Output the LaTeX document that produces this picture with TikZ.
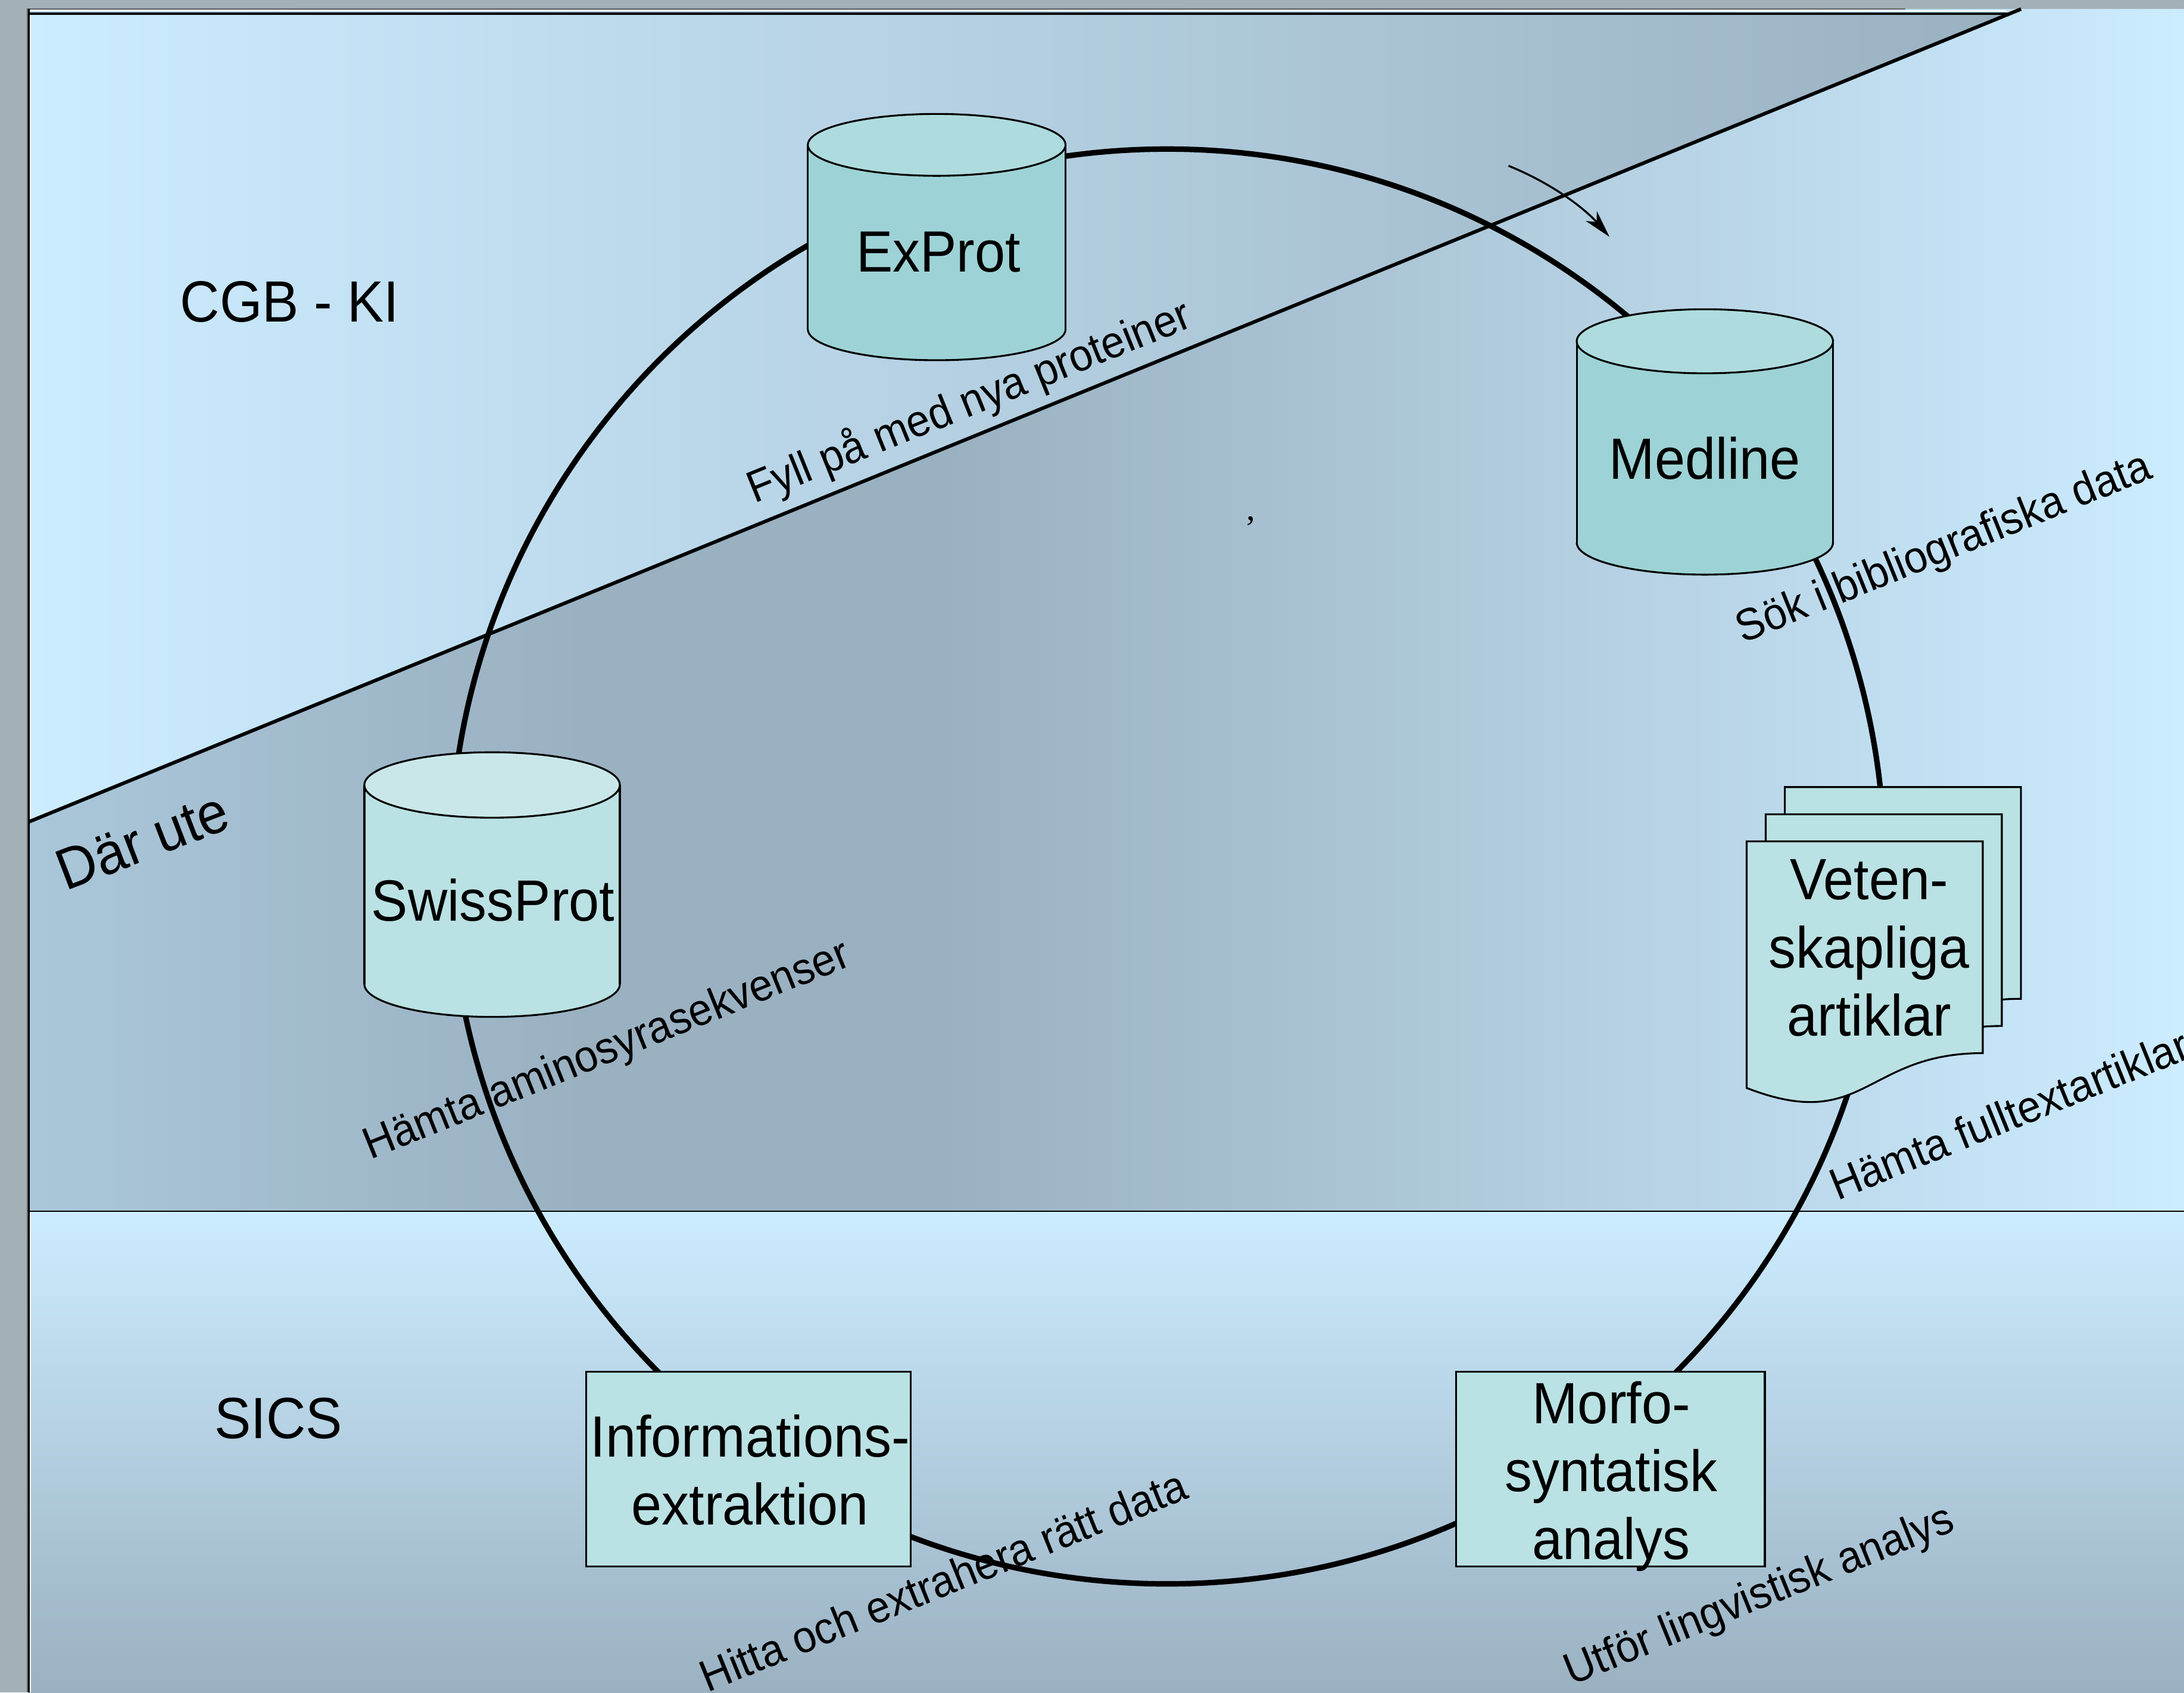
\documentclass[tikz,border=0pt]{standalone}
\usepackage{fontspec}
\setmainfont{Liberation Sans}[FakeStretch=0.94]
\newfontfamily\commafont{Liberation Serif}
\usetikzlibrary{arrows.meta}
\definecolor{outergray}{HTML}{A3B0B5}
\definecolor{lightblue}{HTML}{CCECFF}
\definecolor{darkblue}{HTML}{9AB1C1}
\definecolor{leftmid}{HTML}{AAC7DA}
\definecolor{cylA}{HTML}{9DD3D6}
\definecolor{cylAtop}{HTML}{AEDCDE}
\definecolor{cylB}{HTML}{BAE1E3}
\definecolor{cylBtop}{HTML}{C9E7E9}
\definecolor{boxfill}{HTML}{BAE1E3}
\tikzset{
  shapeline/.style={draw=black, line width=0.95pt},
  maintext/.style={font=\fontsize{29.7}{34.7}\selectfont, inner sep=0pt, align=center},
  lbltext/.style={font=\fontsize{22.8}{25}\selectfont, inner sep=0pt, rotate=22},
  ringline/.style={line width=2.8pt},
  boxnode/.style={shapeline, fill=boxfill, rectangle, inner sep=0pt},
}
% cylinder: left, right, top centre y, bottom centre y, y radius, body colour, top colour
\newcommand\dbcyl[7]{%
  \pgfmathsetmacro\cylcx{(#1+#2)/2}%
  \pgfmathsetmacro\cylrx{(#2-#1)/2}%
  \fill[#6] (#1,#3) rectangle (#2,#4);
  \fill[#6] (\cylcx,#4) ellipse[x radius=\cylrx, y radius=#5];
  \begin{scope}
    \clip ({#1-5},#4) rectangle ({#2+5},{#4+#5+5});
    \draw[shapeline] (\cylcx,#4) ellipse[x radius=\cylrx, y radius=#5];
  \end{scope}
  \draw[shapeline] (#1,#3) -- (#1,#4) (#2,#3) -- (#2,#4);
  \filldraw[shapeline, fill=#7] (\cylcx,#3) ellipse[x radius=\cylrx, y radius=#5];
}
\begin{document}
\begin{tikzpicture}[x=0.025cm, y=-0.025cm]
\useasboundingbox (0,0) rectangle (1568,1215);
\fill[outergray] (0,0) rectangle (1568,1215);

% "Där ute" background band
\shade[left color=leftmid, right color=darkblue] (20.4,6.5) rectangle (420,869.5);
\fill[darkblue] (419.5,6.5) rectangle (680.5,869.5);
\shade[left color=darkblue, right color=lightblue] (680,6.5) rectangle (1568,869.5);

% CGB - KI triangle
\shade[left color=lightblue, right color=darkblue] (21,10) -- (1442,10) -- (21,590) -- cycle;

% SICS band
\shade[top color=lightblue, bottom color=darkblue] (20.4,869.5) rectangle (1568,1215);

% frame lines
\draw[white, line width=0.6pt] (20.4,7.9) -- (1440,7.9);
\draw[black!60, line width=0.5pt] (19.6,1215) -- (19.6,6.3) -- (1368,6.3);
\draw[black, line width=0.9pt] (20.6,6.5) -- (20.6,1215);
\draw[white, line width=0.7pt] (21.8,10) -- (21.8,588);
\draw[white, line width=0.7pt] (21.8,870.5) -- (21.8,1215);
\draw[black, line width=1.2pt] (20.6,10) -- (1442,10);
\draw[black, line width=0.8pt] (20.6,869.5) -- (1568,869.5);
\coordinate (diagA) at (20.6,590);
\coordinate (diagB) at (1451,6.5);
\draw[black, line width=1.8pt] (diagA) -- (diagB);

% the ring
\coordinate (ringc) at (838,622);
\draw[ringline] (ringc) circle[radius=515];

% small curved arrow
\coordinate (arrS) at (1083,119);
\coordinate (arrE) at (1155.5,170);
\draw[line width=1pt, -{Stealth[length=14pt, width=7.5pt, inset=4pt]}]
  (arrS) .. controls (1115,132) and (1138,150) .. (arrE);

% cylinders
\dbcyl{580}{765}{104}{236.4}{22.2}{cylA}{cylAtop}
\dbcyl{1132}{1316}{245}{389.5}{23}{cylA}{cylAtop}
\dbcyl{261.6}{445}{563.5}{706.5}{23.5}{cylB}{cylBtop}

% document stack
\foreach \ox/\oy in {1281.4/565, 1267.7/584.5, 1254/604} {
  \filldraw[shapeline, fill=boxfill] (\ox,\oy) -- ({\ox+169.5},\oy) -- ({\ox+169.5},{\oy+152})
    .. controls ({\ox+84.75},{\oy+152}) and ({\ox+84.75},{\oy+209.9}) .. (\ox,{\oy+177}) -- cycle;
}

% boxes
\node[boxnode, minimum width=5.83cm, minimum height=3.4975cm] (infobox) at (537.3,1054.5) {};
\node[boxnode, minimum width=5.535cm, minimum height=3.5cm] (morfobox) at (1156.3,1054.6) {};

% node texts
\node[maintext] (exprot) at (673.7,181) {ExProt};
\node[maintext] (medline) at (1224,329) {Medline};
\node[maintext] (swissprot) at (354,646) {SwissProt};
\node[maintext] (veten) at (1342,680.5) {Veten-\\skapliga\\artiklar};
\node[maintext] (infotext) at (538.5,1055.2) {Informations-\\extraktion};
\node[maintext] (morfotext) at (1156.8,1059.7) {Morfo-\\syntatisk\\analys};

% region titles
\node[maintext] (cgb) at (208,216.5) {CGB - KI};
\node[maintext] (sics) at (200,1018) {SICS};
\node[maintext, anchor=base west, rotate=21] (darute) at (47,640) {Där ute};

% edge labels
\node[lbltext] (lfyll) at (696,289) {Fyll på med nya proteiner};
\node[lbltext] (lsok) at (1396,394.5) {Sök i bibliografiska data};
\node[lbltext] (lamino) at (436,755) {Hämta aminosyrasekvenser};
\node[lbltext, anchor=base west] (lfull) at (1319,862) {Hämta fulltextartiklar};
\node[lbltext, anchor=base west] (lhitta) at (508,1215) {Hitta och extrahera rätt data};
\node[lbltext] (lutfor) at (1263.5,1146.5) {Utför lingvistisk analys};

% stray comma
\node[font=\commafont\fontsize{18}{18}\selectfont, inner sep=0pt] (comma) at (898,374) {,};
\end{tikzpicture}
\end{document}
